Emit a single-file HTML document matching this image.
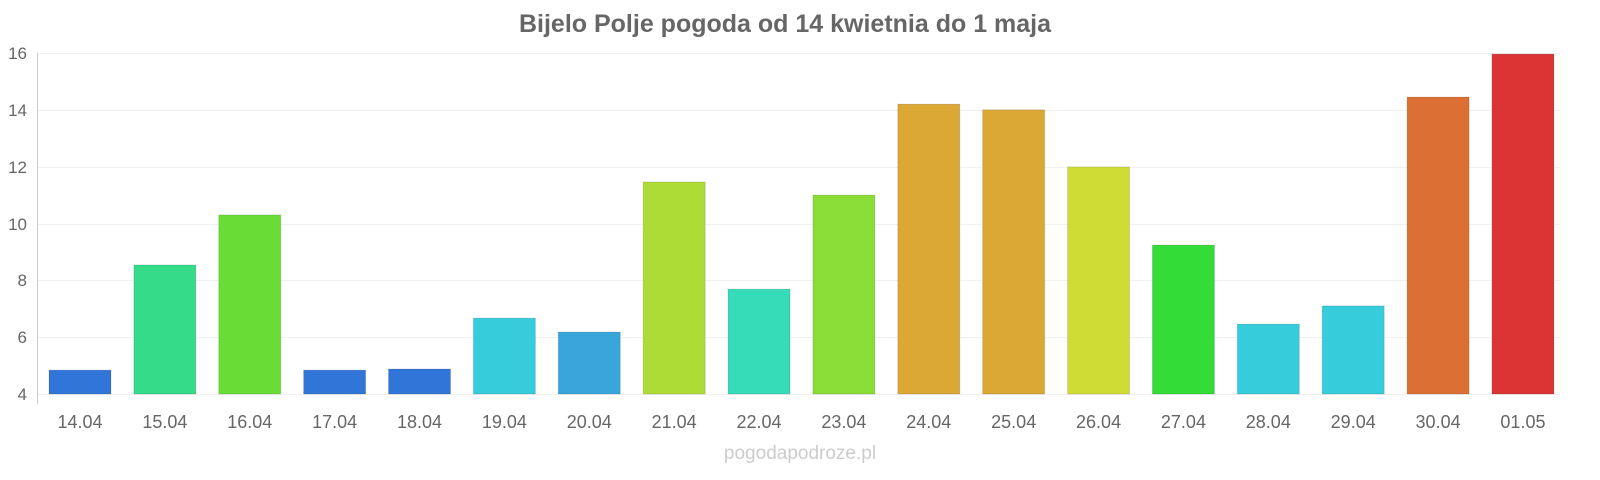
<!DOCTYPE html>
<html><head><meta charset="utf-8"><style>
body{margin:0;background:#fff}
svg{display:block;font-family:"Liberation Sans",sans-serif}
</style></head><body>
<svg width="1600" height="480" viewBox="0 0 1600 480">
<text x="785" y="32" text-anchor="middle" font-size="25" font-weight="bold" fill="#666">Bijelo Polje pogoda od 14 kwietnia do 1 maja</text>
<g stroke="#f0f0f0" stroke-width="1">
<line x1="38" x2="1560" y1="53.5" y2="53.5"/><line x1="38" x2="1560" y1="110.5" y2="110.5"/>
<line x1="38" x2="1560" y1="167.5" y2="167.5"/><line x1="38" x2="1560" y1="224.5" y2="224.5"/>
<line x1="38" x2="1560" y1="280.5" y2="280.5"/><line x1="38" x2="1560" y1="337.5" y2="337.5"/>
<line x1="38" x2="1560" y1="394.5" y2="394.5"/>
</g>
<line x1="37.5" x2="37.5" y1="53" y2="404" stroke="#ccc"/>
<g font-size="17" fill="#666" text-anchor="end">
<text x="27" y="59">16</text><text x="27" y="116">14</text><text x="27" y="173">12</text><text x="27" y="230">10</text><text x="27" y="286">8</text><text x="27" y="343">6</text><text x="27" y="400">4</text>
</g>
<g id="bars"></g>
<g id="labels" font-size="18" fill="#666" text-anchor="middle"></g>
<text x="800" y="459" text-anchor="middle" font-size="19" fill="#ccc">pogodapodroze.pl</text>
</svg>
<script>
var v=[4.84,8.54,10.3,4.84,4.88,6.67,6.18,11.46,7.69,11.0,14.2,14.0,11.99,9.24,6.46,7.1,14.45,15.96];
var c=["#3275d9","#36db8a","#69dc36","#3275d9","#3275d9","#36ccdb","#38a6db","#aedc36","#36dbb8","#8adc36","#dba836","#dba836","#d0dc36","#33dc36","#36ccdb","#36ccdb","#dc7034","#dc3434"];
var l=["14.04","15.04","16.04","17.04","18.04","19.04","20.04","21.04","22.04","23.04","24.04","25.04","26.04","27.04","28.04","29.04","30.04","01.05"];
var b="",t="";
for(var i=0;i<18;i++){var x=49+i*84.88,y=394-(v[i]-4)*28.42;
b+='<rect x="'+x+'" y="'+y+'" width="62" height="'+(394-y)+'" fill="'+c[i]+'" stroke="rgba(0,0,0,0.12)"/>';
t+='<text x="'+(x+31)+'" y="428">'+l[i]+'</text>';}
document.getElementById("bars").innerHTML=b;document.getElementById("labels").innerHTML=t;
</script>
</body></html>
